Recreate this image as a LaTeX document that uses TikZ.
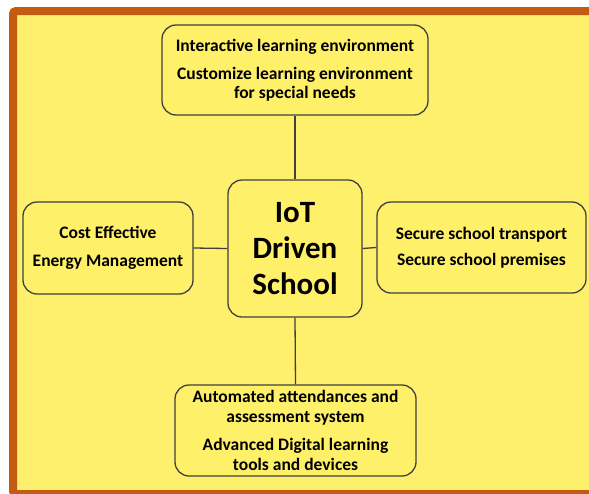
\documentclass[tikz,border=0pt]{standalone}
\usepackage{fontspec}
\setmainfont{Carlito}
\definecolor{bg}{HTML}{FEF06C}
\definecolor{boxfill}{HTML}{FFF06A}
\definecolor{frame}{HTML}{C55A11}
\definecolor{boxline}{HTML}{404040}
\begin{document}
\begin{tikzpicture}[x=1pt,y=-1pt,
  box/.style={draw=boxline, line width=1.3pt, rounded corners=14pt, fill=boxfill,
    align=center, font=\bfseries\fontsize{17.5}{19}\selectfont, inner sep=0pt},
  link/.style={draw=boxline, line width=1.3pt}]
\useasboundingbox (0,0) rectangle (589,493);
\begin{scope}
\clip (0,0) rectangle (589,493);
\fill[white] (0,0) rectangle (589,493);
\draw[fill=bg, draw=frame, line width=8pt, rounded corners=3pt] (13,11) rectangle (640,494);
\end{scope}
\node[box, minimum width=266pt, minimum height=90pt] (top) at (295,70)
  {Interactive learning environment\\[9pt]Customize learning environment\\for special needs};
\node[box, minimum width=134pt, minimum height=137pt, font=\bfseries\fontsize{31}{36}\selectfont] (center) at (295,248.5)
  {IoT\\Driven\\School};
\node[box, minimum width=170pt, minimum height=92pt] (left) at (108,248)
  {Cost Effective\\[9pt]Energy Management};
\node[box, minimum width=209pt, minimum height=91pt] (right) at (481.5,247.5)
  {Secure school transport\\[7pt]Secure school premises};
\node[box, minimum width=241pt, minimum height=91pt, font=\bfseries\fontsize{17.5}{20.5}\selectfont] (bottom) at (295.5,430.5)
  {Automated attendances and\\assessment system\\[7pt]Advanced Digital learning\\tools and devices};
\draw[link] (top.south) -- (center.north);
\draw[link] (center.south) -- (bottom.north);
\draw[link] (left.east) -- (center.west);
\draw[link] (center.east) -- (right.west);
\end{tikzpicture}
\end{document}
